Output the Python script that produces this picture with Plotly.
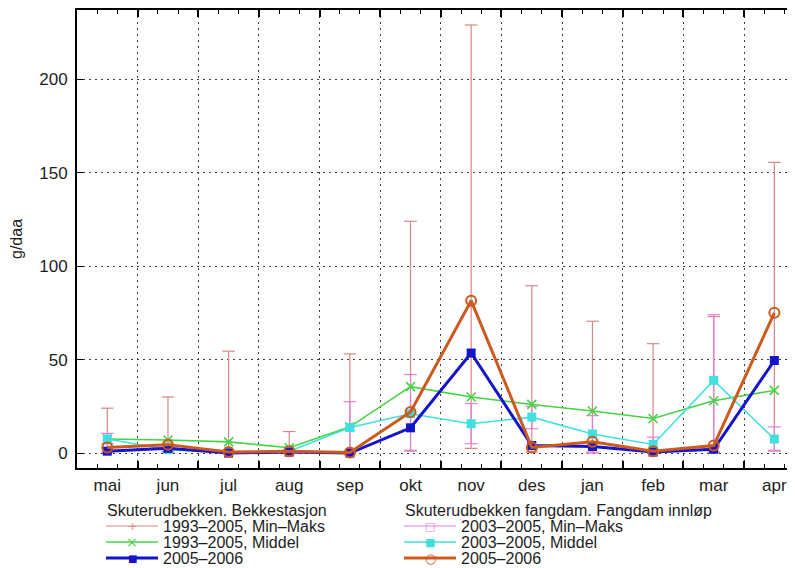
import plotly.graph_objects as go

months = ["mai", "jun", "jul", "aug", "sep", "okt", "nov", "des", "jan", "feb", "mar", "apr"]
x_idx = list(range(len(months)))

# Skuterudbekken. Bekkestasjon
bekk_min = [0.5, 0.5, 0.0, 0.0, 0.0, 1.5, 2.5, 0.5, 0.0, 0.0, 0.5, 1.5]
bekk_max = [24.0, 30.0, 54.5, 11.5, 53.0, 124.0, 229.0, 89.5, 70.5, 58.5, 73.0, 155.5]
bekk_mean = [7.5, 7.0, 6.0, 2.8, 14.0, 35.5, 30.0, 26.0, 22.5, 18.5, 28.0, 33.5]
bekk_0506 = [1.0, 2.5, 0.0, 0.5, 0.0, 13.5, 53.5, 4.0, 3.5, 0.5, 2.0, 49.5]

# Skuterudbekken fangdam. Fangdam innløp
fang_min = [5.0, 1.0, 0.0, 0.5, 0.0, 1.0, 5.0, 13.0, 0.5, 0.5, 0.5, 1.0]
fang_max = [10.5, 3.0, 1.0, 1.5, 27.5, 42.0, 26.5, 25.0, 20.0, 8.5, 74.0, 14.0]
fang_mean = [7.5, 1.8, 0.5, 1.0, 13.7, 21.0, 15.7, 19.2, 10.2, 4.6, 38.9, 7.5]
fang_0506 = [3.0, 4.5, 0.5, 1.0, 0.3, 22.0, 81.5, 3.0, 6.0, 1.0, 4.0, 75.0]

y_ticks = [0, 50, 100, 150, 200]

legend_titles = ["Skuterudbekken. Bekkestasjon", "Skuterudbekken fangdam. Fangdam innløp"]

FONT = "Liberation Sans, Arial, sans-serif"
TXT = "#1e1e1e"

C_ROSE = "#d98787"
C_MAG = "#e27fd6"
C_GREEN = "#44d444"
C_CYAN = "#40e0e0"
C_BLUE = "#1414c8"
C_ORANGE = "#cc5a1e"

# page is shown with an 8px body margin; the figure is sized so that it fills the window
OFF = 8
W, H = 795 - OFF, 568 - OFF
ML, MR, MT, MB = 77 - OFF, 0, 10 - OFF, 100
PW, PH = W - ML - MR, H - MT - MB


def px_x(px):
    return (px - OFF - ML) / PW


def px_y(py):
    return (H - MB - (py - OFF)) / PH


def range_segments(lo, hi):
    xs, ys = [], []
    for i, (a, b) in enumerate(zip(lo, hi)):
        xs += [x_idx[i], x_idx[i], None]
        ys += [a, b, None]
    return xs, ys


fig = go.Figure()

bx, by = range_segments(bekk_min, bekk_max)
fig.add_trace(go.Scatter(
    x=bx, y=by, mode="lines+markers", name="1993–2005, Min–Maks",
    line=dict(color=C_ROSE, width=1.2),
    marker=dict(symbol="line-ew", size=9, line=dict(color=C_ROSE, width=1.2))))

fx, fy = range_segments(fang_min, fang_max)
fig.add_trace(go.Scatter(
    x=fx, y=fy, mode="lines+markers", name="2003–2005, Min–Maks",
    line=dict(color=C_MAG, width=1.2),
    marker=dict(symbol="line-ew", size=9, line=dict(color=C_MAG, width=1.2))))

fig.add_trace(go.Scatter(
    x=x_idx, y=bekk_mean, mode="lines+markers", name="1993–2005, Middel",
    line=dict(color=C_GREEN, width=1.6),
    marker=dict(symbol="x-thin-open", size=9, line=dict(color=C_GREEN, width=1.6))))

fig.add_trace(go.Scatter(
    x=x_idx, y=fang_mean, mode="lines+markers", name="2003–2005, Middel",
    line=dict(color=C_CYAN, width=1.6),
    marker=dict(symbol="square", size=9, color=C_CYAN)))

fig.add_trace(go.Scatter(
    x=x_idx, y=bekk_0506, mode="lines+markers", name="2005–2006",
    line=dict(color=C_BLUE, width=3),
    marker=dict(symbol="square", size=9, color=C_BLUE)))

fig.add_trace(go.Scatter(
    x=x_idx, y=fang_0506, mode="lines+markers", name="2005–2006",
    line=dict(color=C_ORANGE, width=3),
    marker=dict(symbol="circle-open", size=10, line=dict(color=C_ORANGE, width=2))))

# invisible trace carrying the month-label axis
fig.add_trace(go.Scatter(x=x_idx, y=fang_0506, xaxis="x2", mode="lines",
                         line=dict(width=0), showlegend=False, hoverinfo="skip"))

boundaries = [i + 0.5 for i in x_idx[:-1]]
x_range = [-0.5, -0.5 + PW / 60.64]

fig.update_layout(
    width=W, height=H,
    margin=dict(l=ML, r=MR, t=MT, b=MB, autoexpand=False),
    paper_bgcolor="white", plot_bgcolor="white",
    font=dict(family=FONT, size=16, color=TXT),
    showlegend=False,
    xaxis=dict(
        range=x_range,
        tickmode="array", tickvals=boundaries, ticktext=[""] * len(boundaries),
        ticks="inside", ticklen=7, tickwidth=1.5, tickcolor="black",
        showgrid=True, gridcolor="#3a3a3a", griddash="2px,4px", gridwidth=1,
        showline=True, linecolor="black", linewidth=2, mirror="allticks",
        minor=dict(tick0=0.5, dtick=1 / 3, ticks="inside", ticklen=4,
                   tickwidth=1, tickcolor="black", showgrid=False),
        zeroline=False,
    ),
    xaxis2=dict(
        overlaying="x", matches="x", anchor="y", side="bottom",
        range=x_range,
        tickmode="array", tickvals=x_idx, ticktext=months,
        ticks="", showgrid=False, showline=False, zeroline=False,
        ticklabelstandoff=5,
        tickfont=dict(size=17, family=FONT, color=TXT),
    ),
    yaxis=dict(
        range=[-8, 237],
        tickmode="array", tickvals=y_ticks,
        ticks="inside", ticklen=6, tickcolor="black",
        showgrid=True, gridcolor="#3a3a3a", griddash="2px,4px", gridwidth=1,
        showline=True, linecolor="black", linewidth=2,
        zeroline=False,
        ticklabelstandoff=4,
        title=dict(text="g/daa", font=dict(size=16, family=FONT, color=TXT), standoff=20),
        tickfont=dict(size=17, family=FONT, color=TXT),
    ),
)

# Manual legend (two columns, each with a title), gnuplot-style compact rows
legend_cols = [
    (105, legend_titles[0], [
        ("1993–2005, Min–Maks", C_ROSE, 1.2, "+", 11),
        ("1993–2005, Middel", C_GREEN, 1.6, "×", 14),
        ("2005–2006", C_BLUE, 3, "■", 10),
    ]),
    (403, legend_titles[1], [
        ("2003–2005, Min–Maks", C_MAG, 1.2, "□", 11),
        ("2003–2005, Middel", C_CYAN, 1.6, "■", 11),
        ("2005–2006", C_ORANGE, 3, "○", 13),
    ]),
]
title_y = 510
row_y = [526, 542, 558]
for left, title, entries in legend_cols:
    fig.add_annotation(x=px_x(left), y=px_y(title_y), xref="paper", yref="paper",
                       text=title, showarrow=False, xanchor="left", yanchor="middle",
                       font=dict(size=16, family=FONT, color=TXT))
    for (label, col, w, sym, ssz), ry in zip(entries, row_y):
        fig.add_shape(type="line", xref="paper", yref="paper",
                      x0=px_x(left + 1), x1=px_x(left + 53), y0=px_y(ry), y1=px_y(ry),
                      line=dict(color=col, width=w))
        fig.add_annotation(x=px_x(left + 27), y=px_y(ry), xref="paper", yref="paper",
                           text=sym, showarrow=False, xanchor="center", yanchor="middle",
                           font=dict(size=ssz, family="DejaVu Sans", color=col))
        fig.add_annotation(x=px_x(left + 56), y=px_y(ry), xref="paper", yref="paper",
                           text=label, showarrow=False, xanchor="left", yanchor="middle",
                           font=dict(size=16, family=FONT, color=TXT))

fig.write_html("out.html")
